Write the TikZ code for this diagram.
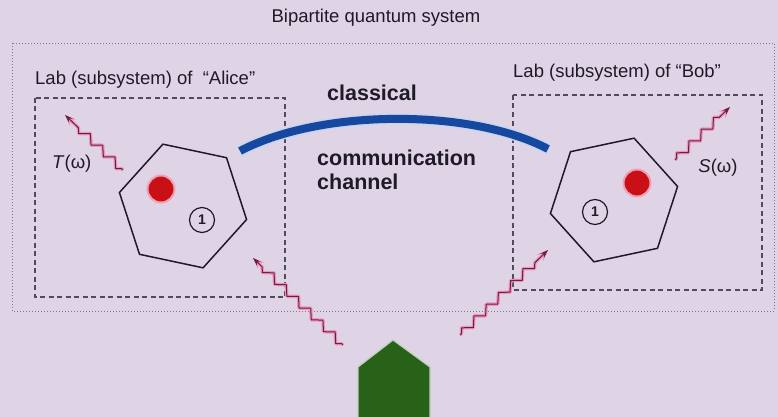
\documentclass[tikz,border=0pt]{standalone}
\usepackage{fontspec}
\setmainfont{Liberation Sans}
\usetikzlibrary{shapes.geometric,decorations.pathmorphing,arrows.meta}
\definecolor{bg}{RGB}{223,212,230}
\definecolor{ink}{RGB}{30,26,40}
\definecolor{boxgray}{RGB}{80,74,92}
\definecolor{dotgray}{RGB}{130,120,142}
\definecolor{wavedark}{RGB}{110,30,65}
\definecolor{wavepink}{RGB}{236,150,190}
\definecolor{chanblue}{RGB}{22,72,160}
\definecolor{changlow}{RGB}{200,212,240}
\definecolor{dotred}{RGB}{200,16,22}
\definecolor{dotglow}{RGB}{238,160,180}
\definecolor{leafgreen}{RGB}{40,98,24}
\begin{document}
\begin{tikzpicture}[x=1pt,y=-1pt,
  labeltext/.style={text=ink, inner sep=0pt, font=\fontsize{18.5}{21}\selectfont},
  boldtext/.style={text=ink, inner sep=0pt, font=\fontsize{21.5}{24}\selectfont\bfseries},
  labbox/.style={draw=boxgray, line width=1.3pt, dash pattern=on 5pt off 3.5pt},
  outerbox/.style={draw=dotgray, line width=0.9pt, dash pattern=on 1pt off 2pt},
  hexa/.style={regular polygon, regular polygon sides=6, minimum size=130pt,
    inner sep=0pt, outer sep=0pt, draw=ink, line width=1.5pt},
  particle/.style={circle, fill=dotred, minimum size=27pt, inner sep=0pt,
    draw=dotglow, line width=2pt},
  tag/.style={circle, draw=ink, line width=1.2pt, minimum size=25pt, inner sep=0pt,
    font=\fontsize{14}{16}\selectfont\bfseries, text=ink},
  wavepath/.style={decorate, decoration={zigzag, segment length=17pt,
    amplitude=4pt, pre length=2pt, post length=10pt}},
  wavehalo/.style={wavepath, draw=wavepink, line width=3.5pt, line join=round,
    -{Stealth[length=11pt,width=9pt]}},
  wave/.style={wavepath, draw=wavedark, line width=1pt, line join=round,
    -{Stealth[length=8pt,width=5.5pt]}},
  channel/.style={draw=chanblue, line width=8pt,
    preaction={draw=changlow, line width=11pt}}
]
\fill[bg] (0,0) rectangle (778,417);
\useasboundingbox (0,0) rectangle (778,417);

% frames: whole system and the two labs
\draw[outerbox] (12,43) rectangle (774,311);
\draw[labbox] (35,98) rectangle (285,297);
\draw[labbox] (513,95) rectangle (762,290);

% headings
\node[labeltext] (title) at (376,18) {Bipartite quantum system};
\node[labeltext, anchor=west] (labA) at (35,80) {Lab (subsystem) of ~“Alice”};
\node[labeltext, anchor=west] (labB) at (513,73) {Lab (subsystem) of “Bob”};

% Alice's subsystem
\node[hexa, rotate=-12] (hexA) at (183,206) {};
\node[particle] (pA) at (161,189) {};
\node[tag] (oneA) at (202,220) {1};

% Bob's subsystem
\node[hexa, rotate=12] (hexB) at (614,200) {};
\node[particle] (pB) at (637,183) {};
\node[tag] (oneB) at (595,212) {1};

% classical channel between the labs
\coordinate (chA) at (240,151);
\coordinate (chB) at (548,149);
\draw[channel] (chA) .. controls (320,109) and (470,108) .. (chB);
\node[boldtext, anchor=west] (classical) at (327,93) {classical};
\node[boldtext, anchor=west, align=left] (comm) at (317,170) {communication\\channel};

% field labels
\node[labeltext, anchor=west] (T) at (52,164) {\textit{T}(ω)};
\node[labeltext] (S) at (718,168) {\textit{S}(ω)};

% radiation arrows
\coordinate (tA0) at (123,170);
\coordinate (tA1) at (65,115);
\coordinate (sB0) at (675,160);
\coordinate (sB1) at (730,107);
\coordinate (inA0) at (343,345);
\coordinate (inA1) at (253,258);
\coordinate (inB0) at (460,335);
\coordinate (inB1) at (548,250);
\foreach \a/\b in {tA0/tA1, sB0/sB1, inA0/inA1, inB0/inB1} {
  \draw[wavehalo] (\a) -- (\b);
  \draw[wave] (\a) -- (\b);
}

% source at the bottom
\begin{scope}
\clip (0,0) rectangle (778,417);
\draw[fill=leafgreen, draw=white!70!leafgreen, line width=1.2pt]
  (358,420) -- (358,367) -- (393,340) -- (430,367) -- (430,420) -- cycle;
\end{scope}
\end{tikzpicture}
\end{document}
